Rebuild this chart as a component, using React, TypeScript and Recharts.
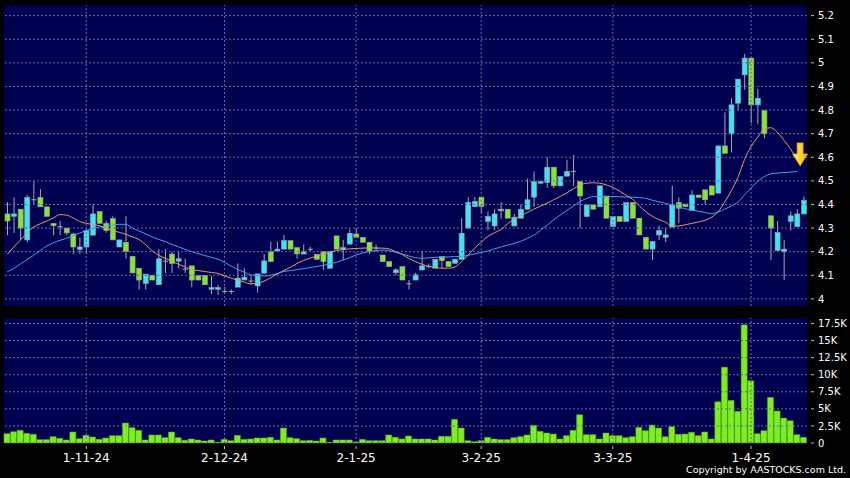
import React from 'react';
import { ComposedChart, Bar, Line, XAxis, YAxis, ReferenceLine, ReferenceDot } from 'recharts';

// candles, oldest first (one per trading day)
const opens = [
  4.36, 4.35, 4.38, 4.25, 4.42, 4.43, 4.39, 4.32, 4.306, 4.30,
  4.275, 4.21, 4.22, 4.27, 4.37, 4.32, 4.34, 4.22, 4.24, 4.18,
  4.13, 4.065, 4.10, 4.06, 4.16, 4.19, 4.16, 4.126, 4.14, 4.10,
  4.10, 4.041, 4.041, 4.031, 4.031, 4.05, 4.08, 4.076, 4.055, 4.109,
  4.20, 4.203, 4.211, 4.247, 4.217, 4.19, 4.21, 4.189, 4.20, 4.13,
  4.267, 4.211, 4.232, 4.275, 4.261, 4.24, 4.215, 4.186, 4.158, 4.111,
  4.137, 4.064, 4.08, 4.123, 4.137, 4.13, 4.179, 4.158, 4.151, 4.168,
  4.30, 4.391, 4.431, 4.328, 4.309, 4.373, 4.38, 4.309, 4.342, 4.38,
  4.431, 4.49, 4.493, 4.558, 4.479, 4.52, 4.54, 4.497, 4.349, 4.398,
  4.391, 4.436, 4.306, 4.349, 4.328, 4.408, 4.342, 4.261, 4.211, 4.271,
  4.261, 4.304, 4.408, 4.402, 4.374, 4.44, 4.462, 4.479, 4.448, 4.648,
  4.699, 4.829, 4.949, 5.02, 4.822, 4.798, 4.352, 4.205, 4.20, 4.328,
  4.306, 4.36,
];
const highs = [
  4.41, 4.43, 4.38, 4.44, 4.50, 4.465, 4.39, 4.32, 4.33, 4.30,
  4.28, 4.26, 4.29, 4.40, 4.37, 4.33, 4.35, 4.25, 4.35, 4.18,
  4.13, 4.105, 4.10, 4.21, 4.21, 4.20, 4.20, 4.17, 4.14, 4.10,
  4.10, 4.097, 4.06, 4.05, 4.04, 4.15, 4.13, 4.10, 4.106, 4.19,
  4.243, 4.243, 4.271, 4.247, 4.217, 4.23, 4.22, 4.189, 4.20, 4.20,
  4.267, 4.25, 4.295, 4.30, 4.261, 4.24, 4.23, 4.186, 4.158, 4.13,
  4.137, 4.08, 4.11, 4.20, 4.15, 4.168, 4.179, 4.158, 4.17, 4.342,
  4.431, 4.431, 4.431, 4.37, 4.38, 4.41, 4.38, 4.36, 4.40, 4.51,
  4.54, 4.50, 4.60, 4.558, 4.518, 4.59, 4.61, 4.497, 4.398, 4.398,
  4.479, 4.436, 4.349, 4.349, 4.408, 4.408, 4.342, 4.261, 4.243, 4.31,
  4.30, 4.479, 4.43, 4.402, 4.46, 4.44, 4.462, 4.479, 4.648, 4.79,
  4.85, 4.931, 5.038, 5.02, 4.89, 4.798, 4.352, 4.33, 4.25, 4.37,
  4.38, 4.434,
];
const lows = [
  4.27, 4.28, 4.25, 4.24, 4.40, 4.39, 4.35, 4.27, 4.27, 4.27,
  4.19, 4.19, 4.19, 4.27, 4.32, 4.28, 4.25, 4.22, 4.17, 4.11,
  4.04, 4.04, 4.08, 4.06, 4.11, 4.11, 4.13, 4.11, 4.05, 4.08,
  4.06, 4.02, 4.017, 4.02, 4.02, 4.05, 4.08, 4.06, 4.027, 4.109,
  4.158, 4.203, 4.211, 4.211, 4.17, 4.19, 4.20, 4.168, 4.123, 4.13,
  4.211, 4.165, 4.232, 4.261, 4.24, 4.19, 4.20, 4.158, 4.137, 4.10,
  4.08, 4.04, 4.08, 4.12, 4.13, 4.13, 4.13, 4.137, 4.15, 4.168,
  4.30, 4.391, 4.363, 4.29, 4.29, 4.34, 4.342, 4.309, 4.342, 4.38,
  4.39, 4.49, 4.47, 4.47, 4.479, 4.52, 4.48, 4.30, 4.349, 4.38,
  4.391, 4.342, 4.306, 4.328, 4.328, 4.342, 4.271, 4.211, 4.165, 4.25,
  4.24, 4.304, 4.32, 4.391, 4.374, 4.43, 4.40, 4.44, 4.448, 4.617,
  4.62, 4.80, 4.886, 4.744, 4.74, 4.68, 4.165, 4.205, 4.08, 4.29,
  4.306, 4.36,
];
const closes = [
  4.33, 4.36, 4.30, 4.43, 4.42, 4.39, 4.35, 4.31, 4.306, 4.28,
  4.22, 4.22, 4.29, 4.36, 4.32, 4.29, 4.25, 4.25, 4.20, 4.11,
  4.08, 4.105, 4.08, 4.17, 4.16, 4.15, 4.17, 4.126, 4.08, 4.08,
  4.06, 4.048, 4.048, 4.031, 4.031, 4.088, 4.092, 4.076, 4.106, 4.161,
  4.158, 4.211, 4.247, 4.211, 4.191, 4.20, 4.21, 4.168, 4.158, 4.20,
  4.211, 4.217, 4.278, 4.261, 4.24, 4.203, 4.215, 4.158, 4.137, 4.123,
  4.08, 4.064, 4.102, 4.14, 4.137, 4.168, 4.162, 4.137, 4.168, 4.278,
  4.408, 4.412, 4.391, 4.349, 4.36, 4.38, 4.342, 4.346, 4.38, 4.42,
  4.497, 4.497, 4.558, 4.479, 4.518, 4.54, 4.54, 4.436, 4.398, 4.38,
  4.479, 4.342, 4.349, 4.328, 4.408, 4.342, 4.271, 4.211, 4.243, 4.289,
  4.271, 4.398, 4.384, 4.391, 4.44, 4.43, 4.42, 4.44, 4.648, 4.617,
  4.822, 4.931, 5.02, 4.822, 4.85, 4.699, 4.30, 4.281, 4.211, 4.352,
  4.36, 4.417,
];

// moving averages as drawn (orange = short, blue = long)
const maShort = [
  4.19, 4.22, 4.25, 4.28, 4.305, 4.318, 4.33, 4.343, 4.357, 4.355,
  4.343, 4.328, 4.32, 4.315, 4.31, 4.298, 4.29, 4.282, 4.274, 4.263,
  4.252, 4.23, 4.204, 4.185, 4.172, 4.16, 4.147, 4.135, 4.125, 4.12,
  4.116, 4.112, 4.108, 4.098, 4.088, 4.079, 4.071, 4.064, 4.066, 4.075,
  4.09, 4.105, 4.12, 4.134, 4.15, 4.163, 4.173, 4.182, 4.19, 4.198,
  4.205, 4.209, 4.212, 4.214, 4.215, 4.216, 4.216, 4.215, 4.212, 4.2,
  4.188, 4.172, 4.158, 4.147, 4.138, 4.133, 4.13, 4.13, 4.135, 4.158,
  4.185, 4.215, 4.24, 4.265, 4.28, 4.294, 4.318, 4.338, 4.352, 4.366,
  4.38, 4.393, 4.405, 4.42, 4.434, 4.449, 4.466, 4.482, 4.49, 4.492,
  4.49, 4.483, 4.472, 4.457, 4.44, 4.422, 4.395, 4.37, 4.35, 4.336,
  4.325, 4.308, 4.309, 4.314, 4.32, 4.326, 4.333, 4.346, 4.37, 4.41,
  4.458, 4.515, 4.59, 4.645, 4.685, 4.72, 4.725, 4.706, 4.672, 4.635,
  4.59,
];
const maLong = [
  4.115, 4.13, 4.148, 4.166, 4.185, 4.205, 4.224, 4.238, 4.248, 4.257,
  4.268, 4.279, 4.29, 4.298, 4.305, 4.309, 4.313, 4.316, 4.316, 4.3,
  4.288, 4.276, 4.263, 4.252, 4.243, 4.231, 4.221, 4.21, 4.2, 4.192,
  4.184, 4.176, 4.168, 4.155, 4.139, 4.125, 4.113, 4.102, 4.099, 4.097,
  4.1, 4.108, 4.116, 4.12, 4.124, 4.128, 4.133, 4.137, 4.142, 4.148,
  4.155, 4.164, 4.175, 4.186, 4.195, 4.201, 4.205, 4.207, 4.204, 4.198,
  4.19, 4.182, 4.175, 4.172, 4.174, 4.176, 4.177, 4.178, 4.179, 4.18,
  4.185, 4.19, 4.197, 4.203, 4.212, 4.22, 4.228, 4.235, 4.244, 4.256,
  4.27, 4.29, 4.312, 4.335, 4.355, 4.374, 4.393, 4.412, 4.425, 4.433,
  4.434, 4.434, 4.434, 4.433, 4.432, 4.431, 4.429, 4.426, 4.418, 4.411,
  4.405, 4.397, 4.389, 4.382, 4.376, 4.371, 4.366, 4.361, 4.368, 4.38,
  4.394, 4.41, 4.44, 4.47, 4.497, 4.518, 4.53, 4.533, 4.535, 4.537,
  4.54,
];

const volumes = [
  1360, 1660, 1850, 1410, 1270, 490, 490, 925, 680, 440,
  1610, 630, 1120, 880, 535, 730, 1070, 1070, 2920, 2240,
  1850, 440, 1170, 1170, 780, 1610, 780, 390, 585, 440,
  290, 440, 100, 535, 340, 1120, 535, 585, 730, 730,
  830, 440, 2190, 780, 630, 340, 390, 290, 730, 100,
  440, 440, 440, 150, 535, 340, 340, 340, 1170, 830,
  585, 1020, 585, 585, 585, 440, 975, 975, 3460, 2190,
  340, 195, 340, 830, 585, 490, 490, 780, 925, 1170,
  2580, 1700, 1460, 1310, 585, 1070, 1850, 4140, 1220, 1220,
  585, 1460, 1070, 1070, 780, 925, 2290, 1800, 2630, 2190,
  925, 2390, 1270, 1310, 1560, 1070, 1610, 585, 6040, 11100,
  6230, 4630, 17290, 9110, 1360, 1800, 6670, 4680, 3650, 3260,
  1220, 830,
];

const tickIndex = [12, 33, 53, 72, 92, 113];
const tickLabels = ['1-11-24', '2-12-24', '2-1-25', '3-2-25', '3-3-25', '1-4-25'];
const priceTicks = [4, 4.1, 4.2, 4.3, 4.4, 4.5, 4.6, 4.7, 4.8, 4.9, 5, 5.1, 5.2];
const volumeTicks = [0, 2500, 5000, 7500, 10000, 12500, 15000, 17500];
const arrowAt = { i: 120, price: 4.61 };

const data = opens.map((o, i) => ({
  i,
  open: o,
  high: highs[i],
  low: lows[i],
  close: closes[i],
  range: [lows[i], highs[i]],
  maShort: maShort[i] ?? null,
  maLong: maLong[i] ?? null,
  vol: volumes[i],
}));

const PANEL = '#000050';
const GRID = '#6a6aa0';
const CYAN = '#3fe3f2';
const GREEN = '#84e82a';
const WICK = '#a8a8b0';
const FONT = '"DejaVu Sans", sans-serif';

function Candle(props: any) {
  const { x, y, width, height, payload } = props;
  if (x == null || payload == null) return null;
  const { open, close, high, low } = payload;
  const top = Math.min(y, y + height);
  const h = Math.abs(height);
  const k = high - low === 0 ? 0 : h / (high - low);
  const yo = top + (high - open) * k;
  const yc = top + (high - close) * k;
  const cx = x + width / 2;
  if (open === close) {
    // doji: just a cross
    return (
      <g>
        <line x1={cx} x2={cx} y1={top} y2={top + h} stroke={WICK} strokeWidth={1} />
        <line x1={x} x2={x + width} y1={yo} y2={yo} stroke={WICK} strokeWidth={1} />
      </g>
    );
  }
  const up = close > open;
  const bTop = Math.min(yo, yc);
  const bH = Math.max(Math.abs(yc - yo), 1.5);
  return (
    <g>
      <line x1={cx} x2={cx} y1={top} y2={top + h} stroke={WICK} strokeWidth={1} />
      <rect x={x} y={bTop} width={width} height={bH} fill={up ? CYAN : GREEN} stroke="#9aa4a8" strokeWidth={0.6} />
    </g>
  );
}

function RightTick(props: any) {
  const { x, y, payload, fmt } = props;
  return (
    <g>
      <line x1={x + 4} x2={x + 7} y1={y} y2={y} stroke="#bbbbbb" strokeWidth={1} />
      <text x={x + 11} y={y} dy="0.36em" fill="#ffffff" fontSize={10} fontFamily={FONT} textAnchor="start">
        {fmt(payload.value)}
      </text>
    </g>
  );
}

function DateTick(props: any) {
  const { x, y, payload } = props;
  const k = tickIndex.indexOf(payload.value);
  return (
    <g>
      <line x1={x} x2={x} y1={y + 3} y2={y + 6} stroke="#bbbbbb" strokeWidth={1} />
      <text x={x} y={y + 15} dy="0.36em" fill="#ffffff" fontSize={12} fontFamily={FONT} textAnchor="middle">
        {k >= 0 ? tickLabels[k] : ''}
      </text>
    </g>
  );
}

function Arrow(props: any) {
  const { cx, cy } = props;
  if (cx == null) return null;
  const x = cx + 3;
  return (
    <g>
      <defs>
        <linearGradient id="arrowFill" x1="0" y1="0" x2="1" y2="0">
          <stop offset="0%" stopColor="#fff07a" />
          <stop offset="60%" stopColor="#ffcf20" />
          <stop offset="100%" stopColor="#f0a010" />
        </linearGradient>
      </defs>
      <polygon
        points={`${x - 3},${cy - 12} ${x + 3},${cy - 12} ${x + 3},${cy - 1} ${x + 7.5},${cy - 1} ${x},${cy + 11} ${x - 7.5},${cy - 1} ${x - 3},${cy - 1}`}
        fill="url(#arrowFill)"
        stroke="#d89a10"
        strokeWidth={0.8}
      />
    </g>
  );
}

const fmtPrice = (v: number) => String(Number(v.toFixed(1)));
const fmtVol = (v: number) => (v === 0 ? '0' : `${v / 1000}K`);

export default function App() {
  return (
    <div style={{ position: 'fixed', left: 0, top: 0, width: 850, height: 478, background: '#000', overflow: 'hidden' }}>
      {/* navy panels behind the two plot areas */}
      <div style={{ position: 'absolute', left: 4, top: 5, width: 803, height: 301, background: PANEL }} />
      <div style={{ position: 'absolute', left: 4, top: 318, width: 803, height: 125, background: PANEL }} />

      {/* price panel */}
      <div style={{ position: 'absolute', left: 0, top: 0 }}>
        <ComposedChart width={850} height={312} data={data} margin={{ top: 5, right: 0, bottom: 6, left: 4 }}>
          <XAxis dataKey="i" type="category" hide />
          <YAxis
            orientation="right"
            width={43}
            domain={[3.97, 5.245]}
            allowDataOverflow
            ticks={priceTicks}
            interval={0}
            axisLine={false}
            tickLine={false}
            tickSize={0}
            tickMargin={0}
            tick={<RightTick fmt={fmtPrice} />}
          />
          {priceTicks.map((t) => (
            <ReferenceLine key={'h' + t} y={t} stroke={GRID} strokeDasharray="2 2" />
          ))}
          {tickIndex.map((t) => (
            <ReferenceLine key={'v' + t} x={t} stroke={GRID} strokeDasharray="2 2" />
          ))}
          <Bar dataKey="range" barSize={5} shape={Candle} isAnimationActive={false} />
          <Line type="monotone" dataKey="maLong" stroke="#3fa2ec" strokeWidth={1} dot={false} isAnimationActive={false} />
          <Line type="monotone" dataKey="maShort" stroke="#e8966a" strokeWidth={1} dot={false} isAnimationActive={false} />
          <ReferenceDot x={arrowAt.i} y={arrowAt.price} r={0} shape={Arrow} />
        </ComposedChart>
      </div>

      {/* volume panel */}
      <div style={{ position: 'absolute', left: 0, top: 312 }}>
        <ComposedChart width={850} height={166} data={data} margin={{ top: 6, right: 0, bottom: 0, left: 4 }}>
          <XAxis
            dataKey="i"
            type="category"
            ticks={tickIndex}
            interval={0}
            height={35}
            axisLine={false}
            tickLine={false}
            tickSize={0}
            tickMargin={0}
            tick={<DateTick />}
          />
          <YAxis
            orientation="right"
            width={43}
            domain={[0, 18300]}
            allowDataOverflow
            ticks={volumeTicks}
            interval={0}
            axisLine={false}
            tickLine={false}
            tickSize={0}
            tickMargin={0}
            tick={<RightTick fmt={fmtVol} />}
          />
          {volumeTicks.map((t) => (
            <ReferenceLine key={'h' + t} y={t} stroke={GRID} strokeDasharray="2 2" />
          ))}
          {tickIndex.map((t) => (
            <ReferenceLine key={'v' + t} x={t} stroke={GRID} strokeDasharray="2 2" />
          ))}
          <Bar dataKey="vol" barSize={6} fill="#7cf01e" stroke="#5ab814" strokeWidth={0.5} isAnimationActive={false} />
        </ComposedChart>
      </div>

      <div
        style={{
          position: 'absolute',
          right: 4,
          top: 463,
          color: '#fff',
          fontFamily: FONT,
          fontSize: 9.5,
          lineHeight: '14px',
          whiteSpace: 'nowrap',
        }}
      >
        Copyright by AASTOCKS.com Ltd.
      </div>
    </div>
  );
}
